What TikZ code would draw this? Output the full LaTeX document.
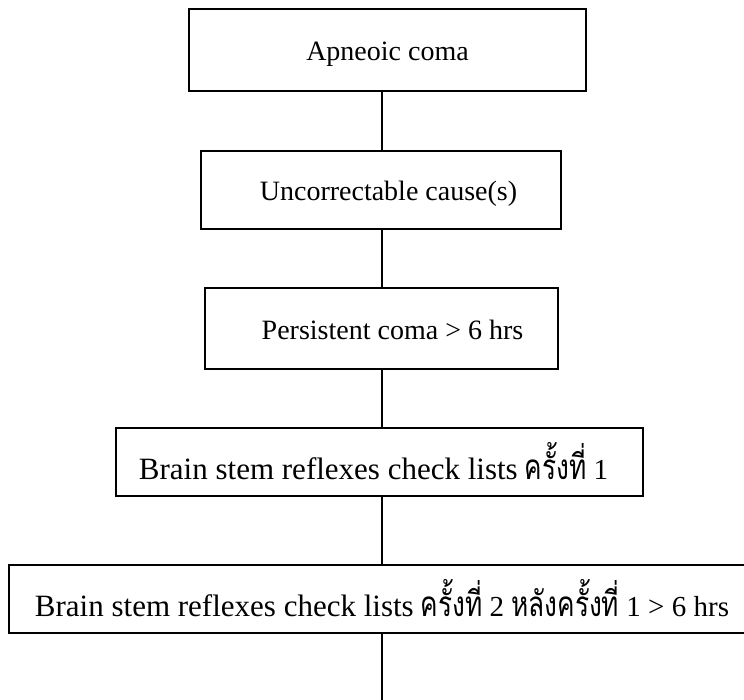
\documentclass[tikz,border=0pt]{standalone}
\usepackage{fontspec}
\setmainfont{Liberation Serif}
\newfontfamily\thaifont[Script=Thai, FakeStretch=0.75]{Loma}
\usetikzlibrary{calc}

\newcommand\boxfont{\fontsize{28}{32}\selectfont}
\newcommand\wideboxfont{\fontsize{31}{34}\selectfont}
\newcommand\thaitxt[1]{{\thaifont\fontsize{35}{36}\selectfont #1}}

\begin{document}
\begin{tikzpicture}[x=1pt, y=-1pt,
    stepbox/.style={draw, line width=1.7pt, inner sep=0pt, font=\boxfont, text height=22pt, text depth=0pt},
    widebox/.style={stepbox, minimum height=68pt, text height=34pt},
    link/.style={line width=1.7pt}]
      \useasboundingbox (0,0) rectangle (744,700);

      \node[stepbox, minimum width=397pt, minimum height=82pt] (apnea) at (387.5,50) {Apneoic coma};
      \node[stepbox, minimum width=360pt, minimum height=78pt] (cause) at (381,190) {\hspace*{15pt}Uncorrectable cause(s)};
      \node[stepbox, minimum width=353pt, minimum height=81pt] (persist) at (381.5,328.5) {\hspace*{22pt}Persistent coma > 6 hrs};
      \node[widebox, minimum width=527pt] (check1) at (379.5,462) {{\wideboxfont Brain stem reflexes check lists} \thaitxt{ครั้งที่}~{\fontsize{29}{32}\selectfont 1}\hspace*{12pt}};
      \node[widebox, minimum width=746pt] (check2) at (382,599) {{\wideboxfont Brain stem reflexes check lists} \thaitxt{ครั้งที่}~{\fontsize{29}{32}\selectfont 2 }\thaitxt{หลังครั้งที่}{\fontsize{29}{32}\selectfont{} 1 > 6 hrs}};
      \coordinate (spine) at (382,0);
      \coordinate (tail) at (382,700);

      \draw[link] (apnea.south -| spine) -- (cause.north -| spine);
      \draw[link] (cause.south -| spine) -- (persist.north -| spine);
      \draw[link] (persist.south -| spine) -- (check1.north -| spine);
      \draw[link] (check1.south -| spine) -- (check2.north -| spine);
      \draw[link] (check2.south -| spine) -- (tail);
    \end{tikzpicture}
\end{document}
